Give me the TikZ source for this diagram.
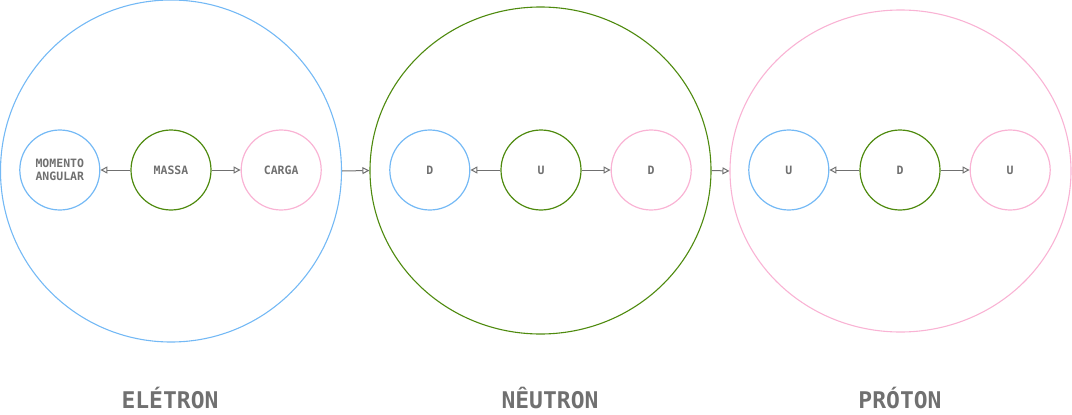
\documentclass[tikz,border=0pt]{standalone}
\usepackage{fontspec}
\setmonofont{DejaVu Sans Mono}
\usetikzlibrary{arrows.meta,positioning,shapes.geometric}
\definecolor{eblue}{HTML}{74B9F5}
\definecolor{ngreen}{HTML}{4E8A0E}
\definecolor{ppink}{HTML}{F9B3D4}
\definecolor{tgray}{HTML}{707070}

\begin{document}
\begin{tikzpicture}[
x=1pt,y=1pt,
bignode/.style={ellipse, draw, line width=1.1pt, inner sep=0pt},
partnode/.style={circle, draw, line width=1.2pt, minimum size=80pt, inner sep=0pt,
  align=center, text=tgray, font=\ttfamily\bfseries\fontsize{11.5}{13}\selectfont},
titlenode/.style={text=tgray, font=\ttfamily\bfseries\fontsize{23}{26}\selectfont},
link/.style={draw=tgray, line width=1pt, -{Triangle[open,length=7pt,width=7pt]}}]
\useasboundingbox (0,0) rectangle (1072,-415);
% Big particles
\node[bignode, draw=eblue, minimum width=341pt, minimum height=342pt] (eletron) at (171,-171) {};
\node[bignode, draw=ngreen, minimum width=341pt, minimum height=327pt] (neutron) at (540.5,-170.5) {};
\node[bignode, draw=ppink, minimum width=341pt, minimum height=322pt] (proton) at (900.5,-171) {};
% Electron parts
\node[partnode, draw=ngreen] (massa) at (171,-170) {MASSA};
\node[partnode, draw=eblue] (momento) [left=30pt of massa] {MOMENTO\\ANGULAR};
\node[partnode, draw=ppink] (carga) [right=29pt of massa] {CARGA};
% Neutron parts
\node[partnode, draw=ngreen] (nu) at (541,-170) {U};
\node[partnode, draw=eblue] (nd1) [left=30pt of nu] {D};
\node[partnode, draw=ppink] (nd2) [right=29pt of nu] {D};
% Proton parts
\node[partnode, draw=ngreen] (pd) at (900,-170) {D};
\node[partnode, draw=eblue] (pu1) [left=30pt of pd] {U};
\node[partnode, draw=ppink] (pu2) [right=29pt of pd] {U};
% Titles
\node[titlenode] (teletron) at (170,-398) {ELÉTRON};
\node[titlenode] (tneutron) at (550,-398) {NÊUTRON};
\node[titlenode] (tproton) at (900,-398) {PRÓTON};
% Lines
\draw[link] (massa) -- (momento);
\draw[link] (massa) -- (carga);
\draw[link] (nu) -- (nd1);
\draw[link] (nu) -- (nd2);
\draw[link] (pd) -- (pu1);
\draw[link] (pd) -- (pu2);
\draw[link] (eletron.east) -- (neutron.west);
\draw[link] (neutron.east) -- (proton.west);
\end{tikzpicture}
\end{document}
